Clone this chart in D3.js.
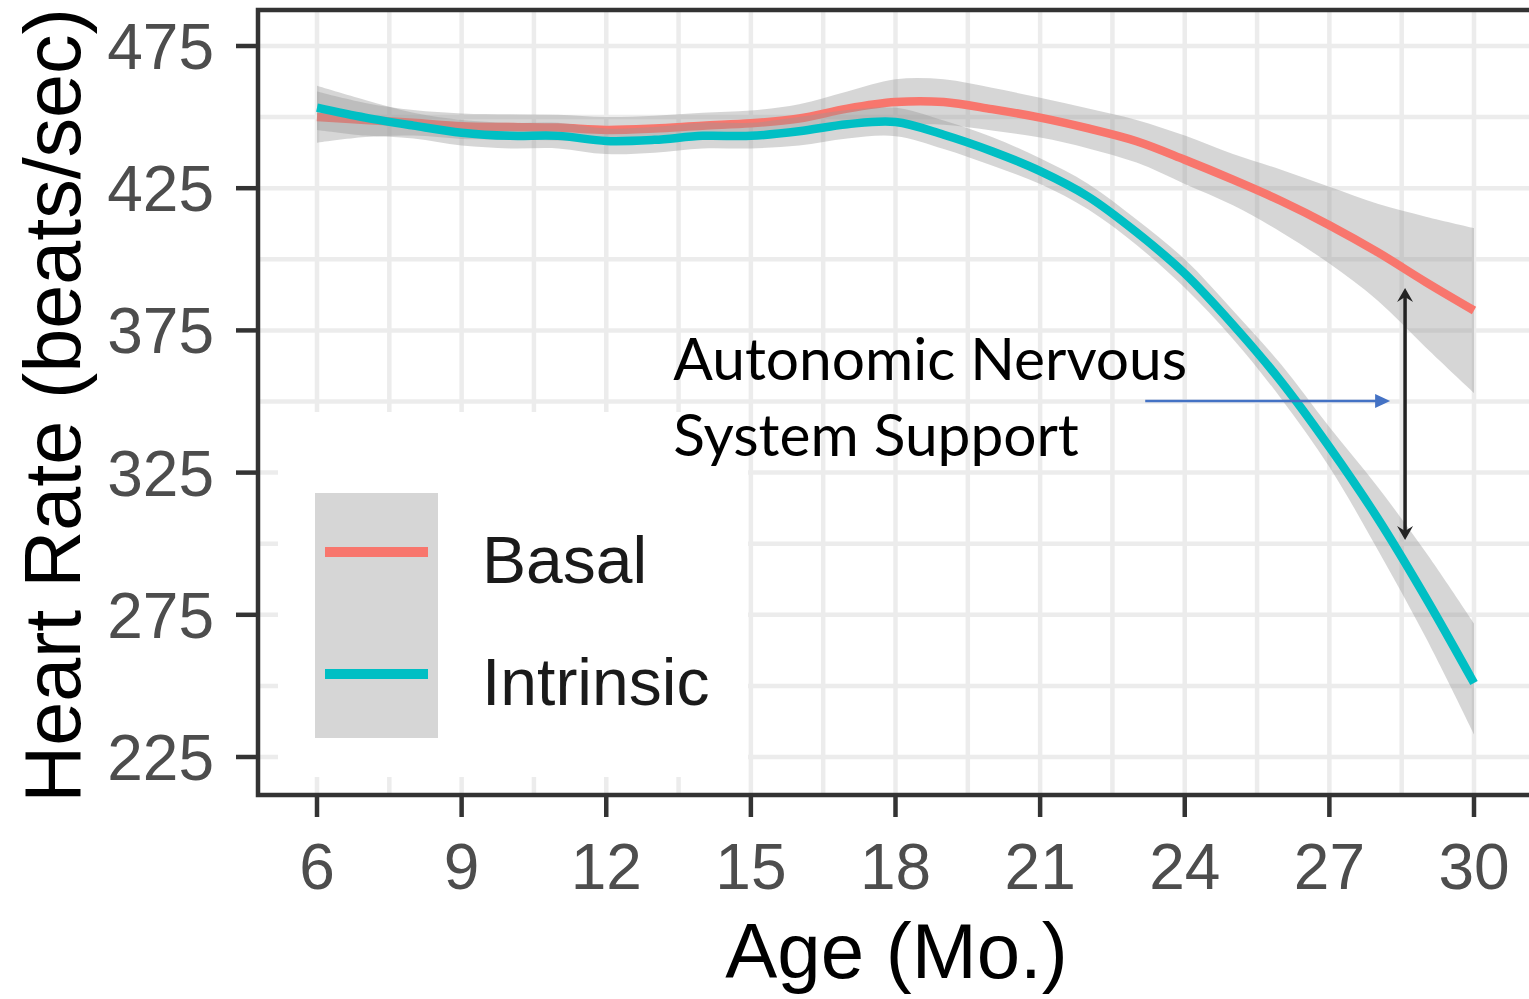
<!DOCTYPE html>
<html>
<head>
<meta charset="utf-8">
<script src="https://cdn.jsdelivr.net/npm/d3@7"></script>
<style>
  body { margin: 0; background: #fff; }
  svg { display: block; }
</style>
</head>
<body>
<svg id="chart" width="1529" height="999"></svg>
<script>
// Age in months at which the smoothed fits are evaluated
const months = [6, 7, 8, 9, 10, 11, 12, 13, 14, 15, 16, 17, 18, 19, 20, 21, 22, 23, 24, 25, 26, 27, 28, 29, 30];

// Basal heart rate fit and its confidence band (beats/sec)
const basal   = [450, 449, 448, 446.8, 446.5, 446.3, 445.5, 446, 447, 447.8, 449.5, 453, 455.3, 455.3, 452.8, 449.8, 446, 441.5, 435, 428, 420.5, 412, 402.5, 392, 382];
const basalHi = [459, 455, 452.5, 451.3, 451, 450.8, 450, 450.5, 451.5, 452.3, 454.5, 459, 463.3, 463.3, 460.3, 456.8, 453, 449, 443.5, 437, 431.5, 425.5, 419.5, 415, 411];
const basalLo = [441, 443, 443.5, 442.3, 442, 441.8, 441, 441.5, 442.5, 443.3, 444.5, 447, 447.3, 447.3, 445.3, 442.8, 439, 434, 426.5, 419, 409.5, 398.5, 385.5, 369, 353];

// Intrinsic heart rate fit and its confidence band (beats/sec)
const intrinsic   = [453.3, 449.8, 447, 444.5, 443.4, 443.4, 441.6, 442, 443.4, 443.4, 445, 447.5, 448.3, 443.8, 438, 431, 422, 409.5, 395, 377, 357, 334, 309, 281, 251];
const intrinsicHi = [461, 456, 451.5, 449, 448, 448, 446, 446.5, 448, 448, 450, 452.5, 453.3, 448.8, 443, 435.5, 426.5, 414, 400, 382, 363, 341, 320, 297, 272];
const intrinsicLo = [445.5, 443.5, 442.5, 440, 439, 439, 437, 437.5, 439, 439, 440, 442.5, 443.3, 438.8, 433, 426.5, 417.5, 405, 390, 372, 351, 327, 298, 267, 233];

// Axis ticks and legend labels
const xTicks = [6, 9, 12, 15, 18, 21, 24, 27, 30];
const yTicks = [225, 275, 325, 375, 425, 475];
const seriesNames = ["Basal", "Intrinsic"];
const seriesColors = ["#F8766D", "#00BFC4"];

// Annotation text
const noteLines = ["Autonomic Nervous", "System Support"];

const svg = d3.select("#chart");
const panel = { left: 258, top: 10, right: 1535, bottom: 795 };

const x = d3.scaleLinear().domain([6, 30]).range([317, 1474]);
const y = d3.scaleLinear().domain([225, 475]).range([757, 46]);

svg.append("rect").attr("width", 1529).attr("height", 999).attr("fill", "#fff");

svg.append("defs").append("clipPath").attr("id", "panelClip")
  .append("rect")
  .attr("x", panel.left).attr("y", panel.top)
  .attr("width", panel.right - panel.left).attr("height", panel.bottom - panel.top);

const gridColor = "#ececec";
const grid = svg.append("g").attr("clip-path", "url(#panelClip)");

// minor grid lines halfway between major breaks
const xMinor = d3.range(xTicks.length - 1).map(i => (xTicks[i] + xTicks[i + 1]) / 2);
const yMinor = d3.range(yTicks.length - 1).map(i => (yTicks[i] + yTicks[i + 1]) / 2);
const xStep = xTicks[1] - xTicks[0], yStep = yTicks[1] - yTicks[0];
xMinor.unshift(xTicks[0] - xStep / 2); xMinor.push(xTicks[xTicks.length - 1] + xStep / 2);
yMinor.unshift(yTicks[0] - yStep / 2); yMinor.push(yTicks[yTicks.length - 1] + yStep / 2);

grid.selectAll(".gx").data(xMinor.concat(xTicks)).join("line")
  .attr("x1", d => x(d)).attr("x2", d => x(d))
  .attr("y1", panel.top).attr("y2", panel.bottom)
  .attr("stroke", gridColor).attr("stroke-width", 4.5);
grid.selectAll(".gy").data(yMinor.concat(yTicks)).join("line")
  .attr("x1", panel.left).attr("x2", panel.right)
  .attr("y1", d => y(d)).attr("y2", d => y(d))
  .attr("stroke", gridColor).attr("stroke-width", 4.5);

// smoothed fits with ribbons
const plot = svg.append("g").attr("clip-path", "url(#panelClip)");
const series = [
  { name: seriesNames[0], color: seriesColors[0], fit: basal, lo: basalLo, hi: basalHi },
  { name: seriesNames[1], color: seriesColors[1], fit: intrinsic, lo: intrinsicLo, hi: intrinsicHi }
];
const curve = d3.curveCatmullRom.alpha(0.5);
const area = d3.area().curve(curve)
  .x((d, i) => x(months[i]));
const line = d3.line().curve(curve)
  .x((d, i) => x(months[i])).y(d => y(d));

series.forEach(s => {
  plot.append("path")
    .attr("d", area.y0((d, i) => y(s.lo[i])).y1((d, i) => y(s.hi[i]))(months))
    .attr("fill", "#999999").attr("fill-opacity", 0.4);
  plot.append("path")
    .attr("d", line(s.fit))
    .attr("fill", "none").attr("stroke", s.color)
    .attr("stroke-width", 8.5).attr("stroke-linejoin", "round");
});

// legend inside the panel
const legend = svg.append("g");
legend.append("rect").attr("x", 278).attr("y", 412).attr("width", 470).attr("height", 365).attr("fill", "#fff");
legend.append("rect").attr("x", 315).attr("y", 493).attr("width", 123).attr("height", 245)
  .attr("fill", "#999999").attr("fill-opacity", 0.4);
series.forEach((s, i) => {
  const ky = 552 + i * 122;
  legend.append("line").attr("x1", 325).attr("x2", 428).attr("y1", ky).attr("y2", ky)
    .attr("stroke", s.color).attr("stroke-width", 10);
  legend.append("text").attr("x", 482).attr("y", ky + 31)
    .attr("font-family", "'Liberation Sans', Arial, sans-serif").attr("font-size", 66)
    .attr("fill", "#1a1a1a").text(s.name);
});

// panel border
const borderColor = "#333333";
svg.append("rect")
  .attr("x", panel.left).attr("y", panel.top)
  .attr("width", panel.right - panel.left).attr("height", panel.bottom - panel.top)
  .attr("fill", "none").attr("stroke", borderColor).attr("stroke-width", 4.5);

// axes
const tickFont = "'Liberation Sans', Arial, sans-serif";
const xAxis = svg.append("g");
xAxis.selectAll("line").data(xTicks).join("line")
  .attr("x1", d => x(d)).attr("x2", d => x(d))
  .attr("y1", panel.bottom).attr("y2", panel.bottom + 22)
  .attr("stroke", borderColor).attr("stroke-width", 4.5);
xAxis.selectAll("text").data(xTicks).join("text")
  .attr("x", d => x(d)).attr("y", 889)
  .attr("text-anchor", "middle")
  .attr("font-family", tickFont).attr("font-size", 64).attr("fill", "#4d4d4d")
  .text(d => d);

const yAxis = svg.append("g");
yAxis.selectAll("line").data(yTicks).join("line")
  .attr("x1", panel.left - 22).attr("x2", panel.left)
  .attr("y1", d => y(d)).attr("y2", d => y(d))
  .attr("stroke", borderColor).attr("stroke-width", 4.5);
yAxis.selectAll("text").data(yTicks).join("text")
  .attr("x", 214).attr("y", d => y(d) + 23)
  .attr("text-anchor", "end")
  .attr("font-family", tickFont).attr("font-size", 64).attr("fill", "#4d4d4d")
  .text(d => d);

// axis titles
svg.append("text")
  .attr("x", (panel.left + panel.right) / 2).attr("y", 978)
  .attr("text-anchor", "middle")
  .attr("font-family", tickFont).attr("font-size", 78).attr("fill", "#000")
  .text("Age (Mo.)");
svg.append("text")
  .attr("transform", `translate(80,${(panel.top + panel.bottom) / 2 + 3}) rotate(-90)`)
  .attr("text-anchor", "middle")
  .attr("font-family", tickFont).attr("font-size", 79).attr("fill", "#000")
  .text("Heart Rate (beats/sec)");

// annotation: label, pointer and the gap between the two fits
const note = svg.append("g");
const noteX = x(13.39);
const noteY = [y(357.6), y(330.8)];
const noteTexts = noteLines.map((t, i) => note.append("text")
  .attr("x", noteX).attr("y", noteY[i])
  .attr("font-family", "Lato, 'Open Sans', sans-serif").attr("font-size", 100)
  .attr("fill", "#000").text(t));
const w0 = noteTexts[0].node().getComputedTextLength();
const fs = 100 * 514 / w0;
noteTexts.forEach(t => t.attr("font-size", fs));

// blue pointer
const bx0 = x(23.18), bx1 = x(28.26), by = y(350.2);
note.append("line").attr("x1", bx0).attr("x2", bx1 - 12).attr("y1", by).attr("y2", by)
  .attr("stroke", "#4472C4").attr("stroke-width", 2.5);
note.append("path")
  .attr("d", `M${bx1},${by} L${bx1 - 15},${by - 7} L${bx1 - 15},${by + 7} Z`)
  .attr("fill", "#4472C4");

// black double-headed arrow between the fits
const ax = x(28.57), ay0 = y(389.9), ay1 = y(301.3);
note.append("line").attr("x1", ax).attr("x2", ax).attr("y1", ay0 + 4).attr("y2", ay1 - 4)
  .attr("stroke", "#222").attr("stroke-width", 3.5);
const head = (tx, ty, dir) =>
  `M${tx},${ty} L${tx - 8},${ty + dir * 14} L${tx},${ty + dir * 9} L${tx + 8},${ty + dir * 14} Z`;
note.append("path").attr("d", head(ax, ay0, 1)).attr("fill", "#222");
note.append("path").attr("d", head(ax, ay1, -1)).attr("fill", "#222");
</script>
</body>
</html>
